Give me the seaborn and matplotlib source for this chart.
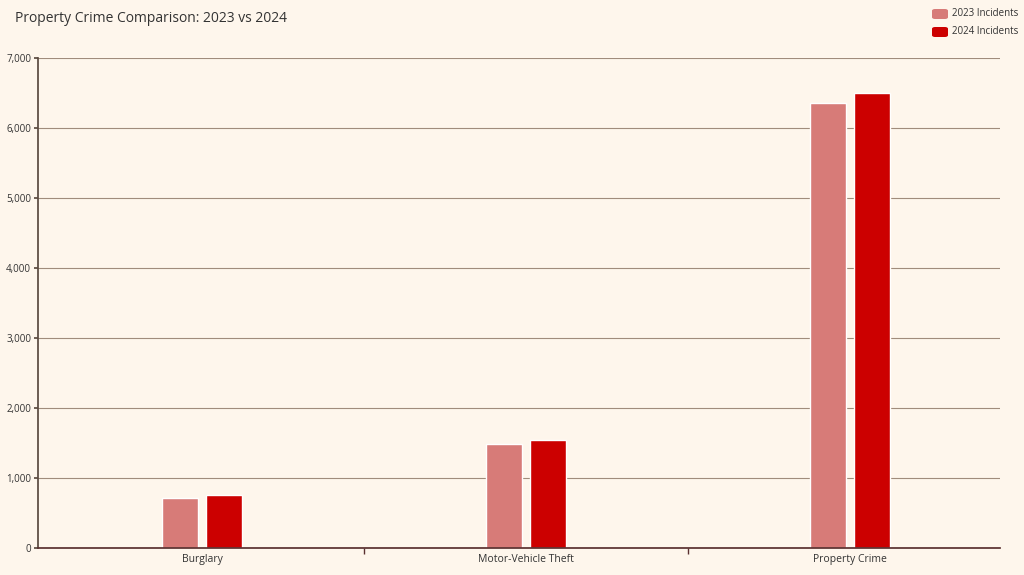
import matplotlib
matplotlib.use("Agg")
import matplotlib.pyplot as plt
import seaborn as sns
import pandas as pd
from matplotlib.ticker import FuncFormatter, FixedLocator

categories = ["Burglary", "Motor-Vehicle Theft", "Property Crime"]
incidents_2023 = [715, 1487, 6357]
incidents_2024 = [757, 1543, 6500]
series = ["2023 Incidents", "2024 Incidents"]
colors = ["#D77B78", "#CC0000"]
bg = "#FEF6EC"

df = pd.DataFrame({
    "Category": categories * 2,
    "Value": incidents_2023 + incidents_2024,
    "Series": [series[0]] * 3 + [series[1]] * 3,
})

sns.set_theme(style="white")
plt.rcParams["font.family"] = ["Open Sans", "DejaVu Sans"]
fig = plt.figure(figsize=(10.24, 5.75), dpi=100, facecolor=bg)
ax = fig.add_axes([38/1024, 27/575, 962/1024, 490/575])
ax.set_facecolor(bg)
sns.barplot(data=df, x="Category", y="Value", hue="Series", palette=colors,
            width=0.27, gap=0.18, ax=ax, legend=False, saturation=1)
ax.set_xlim(-0.506, 2.463)
ax.set_ylim(0, 7000)
ax.set_yticks(range(0, 7001, 1000))
ax.yaxis.set_major_formatter(FuncFormatter(lambda v, p: f"{int(v):,}"))
ax.grid(axis="y", color="#A08C7C", linewidth=0.8)
ax.set_axisbelow(True)
ax.set_xlabel("")
ax.set_ylabel("")
for s in ["top", "right"]:
    ax.spines[s].set_visible(False)
ax.spines["left"].set_color("#5A4A40")
ax.spines["bottom"].set_color("#5A3030")
ax.tick_params(axis="x", length=0, labelsize=7.5, colors="#333333", pad=4)
ax.tick_params(axis="y", length=3, labelsize=7, colors="#333333", left=True, color="#5A4A40", pad=2)
ax.xaxis.set_minor_locator(FixedLocator([0.5, 1.5]))
ax.tick_params(axis="x", which="minor", length=4, bottom=True, color="#5A3030")

fig.text(15/1024, 1 - 19/575, "Property Crime Comparison: 2023 vs 2024", fontsize=10,
         color="#333333", va="center")
for i, (lab, c) in enumerate(zip(series, colors)):
    y = 14 + i * 18
    fig.patches.append(matplotlib.patches.FancyBboxPatch(
        (932/1024, 1 - (y + 5)/575), 16/1024, 10/575, boxstyle="round,pad=0,rounding_size=0.003",
        transform=fig.transFigure, facecolor=c, edgecolor="none"))
    fig.text(952/1024, 1 - y/575, lab, fontsize=7, color="#333333", va="center")

fig.savefig("out.png", dpi=100, facecolor=bg)
